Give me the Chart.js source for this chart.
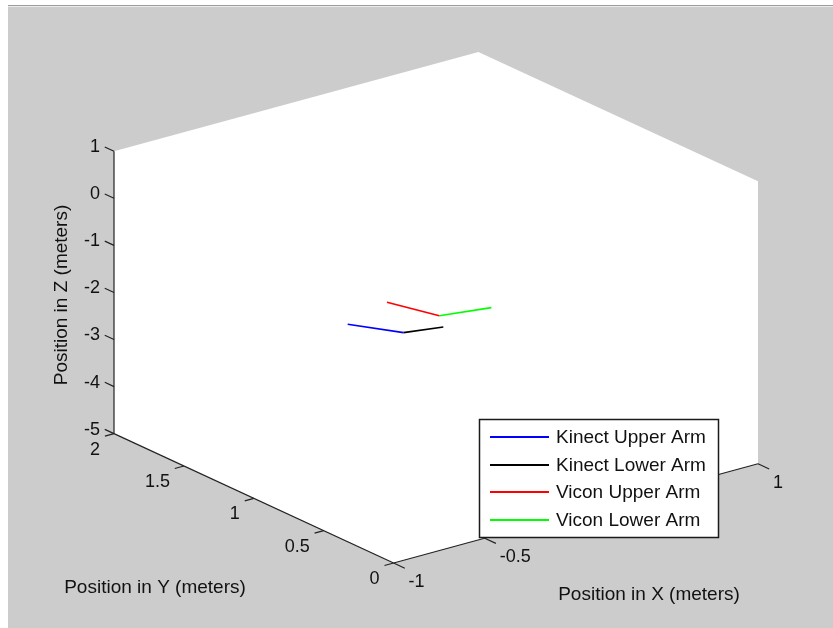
<!DOCTYPE html>
<html>
<head>
<meta charset="utf-8">
<title>Arm position</title>
<script src="https://cdn.jsdelivr.net/npm/chart.js@4.4.1/dist/chart.umd.min.js"></script>
<style>
  html, body { margin: 0; padding: 0; background: #fff; }
  #wrap { width: 833px; height: 628px; position: relative; }
</style>
</head>
<body>
<div id="wrap"><canvas id="armChart" width="833" height="628"></canvas></div>
<script>
// axis limits
const xLim = [-1, 1];
const yLim = [0, 2];
const zLim = [-5, 1];

// tick values
const xTicks = [-1, -0.5, 0, 0.5, 1];
const yTicks = [0, 0.5, 1, 1.5, 2];
const zTicks = [-5, -4, -3, -2, -1, 0, 1];

// joint positions (shoulder -> elbow, elbow -> wrist), meters
const kinectUpperArmX = [-0.50, -0.37];
const kinectUpperArmY = [0.98, 0.75];
const kinectUpperArmZ = [-1.8, -1.8];

const kinectLowerArmX = [-0.37, -0.19];
const kinectLowerArmY = [0.75, 0.70];
const kinectLowerArmZ = [-1.8, -1.8];

const viconUpperArmX = [-0.20, -0.12];
const viconUpperArmY = [1.09, 0.82];
const viconUpperArmZ = [-1.8, -1.8];

const viconLowerArmX = [-0.12, 0.12];
const viconLowerArmY = [0.82, 0.76];
const viconLowerArmZ = [-1.8, -1.8];

// default 3-D view
const az = -37.5 * Math.PI / 180;
const el = 30 * Math.PI / 180;

function norm(v, lim) {
  return (v - lim[0]) / (lim[1] - lim[0]);
}

// orthographic projection of the normalised plot box
function project(x, y, z) {
  const xn = norm(x, xLim);
  const yn = norm(y, yLim);
  const zn = norm(z, zLim);
  return {
    x: Math.cos(az) * xn + Math.sin(az) * yn,
    y: -Math.sin(el) * Math.sin(az) * xn + Math.sin(el) * Math.cos(az) * yn + Math.cos(el) * zn,
  };
}

function toPoints(xs, ys, zs) {
  return xs.map((x, i) => project(x, ys[i], zs[i]));
}

// extents of the box once projected
const corners = [];
[0, 1].forEach(i => [0, 1].forEach(j => [0, 1].forEach(k => {
  corners.push(project(xLim[i], yLim[j], zLim[k]));
})));
const uMin = Math.min(...corners.map(p => p.x));
const uMax = Math.max(...corners.map(p => p.x));
const vMin = Math.min(...corners.map(p => p.y));
const vMax = Math.max(...corners.map(p => p.y));

const FONT = 'Arial, "Liberation Sans", sans-serif';
const TEXT = '#111';

const boxPlugin = {
  id: 'box3d',
  beforeDraw(chart) {
    const ctx = chart.ctx;
    const sx = chart.scales.x;
    const sy = chart.scales.y;
    const px = (x, y, z) => {
      const p = project(x, y, z);
      return [sx.getPixelForValue(p.x), sy.getPixelForValue(p.y)];
    };

    // figure background
    ctx.save();
    ctx.fillStyle = '#fff';
    ctx.fillRect(0, 0, chart.width, chart.height);
    ctx.fillStyle = '#cccccc';
    ctx.fillRect(8, 5, chart.width - 8, chart.height - 5);
    ctx.fillStyle = '#9c9c9c';
    ctx.fillRect(8, 5, chart.width - 8, 1);
    ctx.fillStyle = '#ececec';
    ctx.fillRect(8, 6, chart.width - 8, 1);

    // white plot box
    const hex = [
      px(xLim[0], yLim[1], zLim[1]),
      px(xLim[1], yLim[1], zLim[1]),
      px(xLim[1], yLim[0], zLim[1]),
      px(xLim[1], yLim[0], zLim[0]),
      px(xLim[0], yLim[0], zLim[0]),
      px(xLim[0], yLim[1], zLim[0]),
    ];
    ctx.fillStyle = '#fff';
    ctx.beginPath();
    hex.forEach((p, i) => (i ? ctx.lineTo(p[0], p[1]) : ctx.moveTo(p[0], p[1])));
    ctx.closePath();
    ctx.fill();

    ctx.strokeStyle = '#222';
    ctx.lineWidth = 1.2;
    const line = (a, b) => {
      ctx.beginPath();
      ctx.moveTo(a[0], a[1]);
      ctx.lineTo(b[0], b[1]);
      ctx.stroke();
    };

    // axis lines
    line(px(xLim[0], yLim[1], zLim[0]), px(xLim[0], yLim[1], zLim[1]));
    line(px(xLim[0], yLim[0], zLim[0]), px(xLim[0], yLim[1], zLim[0]));
    line(px(xLim[0], yLim[0], zLim[0]), px(xLim[1], yLim[0], zLim[0]));

    ctx.fillStyle = TEXT;
    ctx.font = '18px ' + FONT;

    // z ticks, pointing out along +y
    ctx.textAlign = 'right';
    ctx.textBaseline = 'middle';
    const zOut = 0.066;
    zTicks.forEach(t => {
      const a = px(xLim[0], yLim[1], t);
      line(a, px(xLim[0], yLim[1] + zOut, t));
      ctx.fillText(String(t), a[0] - 14, a[1] - 4);
    });

    // y ticks, pointing out along -x
    const yOut = 0.05;
    yTicks.forEach(t => {
      const a = px(xLim[0], t, zLim[0]);
      line(a, px(xLim[0] - yOut, t, zLim[0]));
      ctx.fillText(String(t), a[0] - 14, a[1] + 16);
    });

    // x ticks, pointing out along -y
    ctx.textAlign = 'left';
    const xOut = 0.08;
    xTicks.forEach(t => {
      const a = px(t, yLim[0], zLim[0]);
      line(a, px(t, yLim[0] - xOut, zLim[0]));
      ctx.fillText(String(t), a[0] + 15, a[1] + 19);
    });

    // axis titles
    ctx.font = '19px ' + FONT;
    ctx.textAlign = 'center';
    ctx.fillText('Position in Y (meters)', 155, 588);
    ctx.fillText('Position in X (meters)', 649, 595);
    ctx.save();
    ctx.translate(62, 295);
    ctx.rotate(-Math.PI / 2);
    ctx.fillText('Position in Z (meters)', 0, 0);
    ctx.restore();

    ctx.restore();
  },
  afterDraw(chart) {
    // legend box in the lower right of the axes
    const ctx = chart.ctx;
    const left = 479;
    const top = 419;
    const w = 239;
    const h = 118;
    ctx.save();
    ctx.fillStyle = '#fff';
    ctx.fillRect(left, top, w, h);
    ctx.strokeStyle = '#1a1a1a';
    ctx.lineWidth = 1.5;
    ctx.strokeRect(left + 0.5, top + 0.5, w, h);
    ctx.font = '19px ' + FONT;
    ctx.textAlign = 'left';
    ctx.textBaseline = 'middle';
    chart.data.datasets.forEach((ds, i) => {
      const y = Math.round(top + 18 + i * 27.5);
      ctx.strokeStyle = ds.borderColor;
      ctx.lineWidth = 2;
      ctx.beginPath();
      ctx.moveTo(left + 11, y);
      ctx.lineTo(left + 70, y);
      ctx.stroke();
      ctx.fillStyle = TEXT;
      ctx.fillText(ds.label, left + 77, y + 1);
    });
    ctx.restore();
  },
};

function series(label, color, xs, ys, zs) {
  return {
    label,
    data: toPoints(xs, ys, zs),
    borderColor: color,
    backgroundColor: color,
    borderWidth: 1.6,
    showLine: true,
    pointRadius: 0,
    tension: 0,
  };
}

const ctx = document.getElementById('armChart');
const armChart = new Chart(ctx, {
  type: 'scatter',
  data: {
    datasets: [
      series('Kinect Upper Arm', '#0000ff', kinectUpperArmX, kinectUpperArmY, kinectUpperArmZ),
      series('Kinect Lower Arm', '#000000', kinectLowerArmX, kinectLowerArmY, kinectLowerArmZ),
      series('Vicon Upper Arm', '#ff0000', viconUpperArmX, viconUpperArmY, viconUpperArmZ),
      series('Vicon Lower Arm', '#00ff00', viconLowerArmX, viconLowerArmY, viconLowerArmZ),
    ],
  },
  options: {
    responsive: false,
    animation: false,
    events: [],
    layout: { padding: { left: 114, right: 75, top: 52, bottom: 65 } },
    scales: {
      x: { type: 'linear', display: false, min: uMin, max: uMax },
      y: { type: 'linear', display: false, min: vMin, max: vMax },
    },
    plugins: {
      legend: { display: false },
      tooltip: { enabled: false },
      title: { display: false },
    },
  },
  plugins: [boxPlugin],
});
</script>
</body>
</html>
